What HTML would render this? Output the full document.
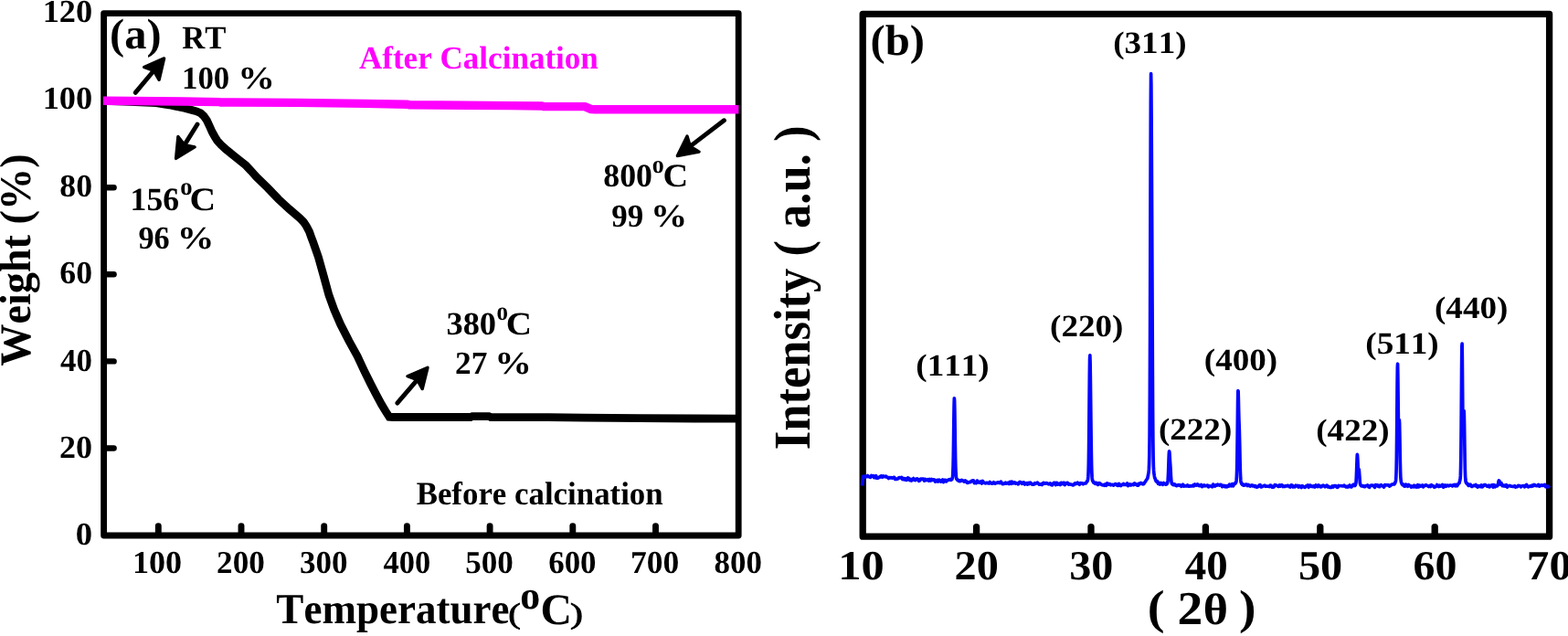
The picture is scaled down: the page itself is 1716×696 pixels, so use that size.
<!DOCTYPE html>
<html lang="en"><head><meta charset="utf-8"><title>TGA and XRD</title>
<style>
html,body{margin:0;padding:0;background:#fff;}
body{width:1716px;height:696px;overflow:hidden;}
svg{display:block;font-family:"Liberation Serif",serif;font-weight:bold;font-kerning:none;fill:#000;text-rendering:geometricPrecision;}
text{white-space:pre;}
</style></head><body>
<svg width="1716" height="696" viewBox="0 0 1716 696">
<rect width="1716" height="696" fill="#fff"/>
<g id="figure">
<g id="panel-a">
<rect x="113.6" y="14.6" width="694.6" height="571.4" fill="none" stroke="#000" stroke-width="6.8" stroke-linejoin="round"/>
<line x1="173.3" y1="585.0" x2="173.3" y2="575.6" stroke="#000" stroke-width="6.9" stroke-linecap="round"/>
<line x1="264.0" y1="585.0" x2="264.0" y2="575.6" stroke="#000" stroke-width="6.9" stroke-linecap="round"/>
<line x1="354.7" y1="585.0" x2="354.7" y2="575.6" stroke="#000" stroke-width="6.9" stroke-linecap="round"/>
<line x1="445.4" y1="585.0" x2="445.4" y2="575.6" stroke="#000" stroke-width="6.9" stroke-linecap="round"/>
<line x1="536.1" y1="585.0" x2="536.1" y2="575.6" stroke="#000" stroke-width="6.9" stroke-linecap="round"/>
<line x1="626.8" y1="585.0" x2="626.8" y2="575.6" stroke="#000" stroke-width="6.9" stroke-linecap="round"/>
<line x1="717.5" y1="585.0" x2="717.5" y2="575.6" stroke="#000" stroke-width="6.9" stroke-linecap="round"/>
<line x1="114.6" y1="490.5" x2="124.6" y2="490.5" stroke="#000" stroke-width="6.4" stroke-linecap="round"/>
<line x1="114.6" y1="395.4" x2="124.6" y2="395.4" stroke="#000" stroke-width="6.4" stroke-linecap="round"/>
<line x1="114.6" y1="300.3" x2="124.6" y2="300.3" stroke="#000" stroke-width="6.4" stroke-linecap="round"/>
<line x1="114.6" y1="205.2" x2="124.6" y2="205.2" stroke="#000" stroke-width="6.4" stroke-linecap="round"/>
<line x1="114.6" y1="110.1" x2="124.6" y2="110.1" stroke="#000" stroke-width="6.4" stroke-linecap="round"/>
<path d="M114.00,110.30 L136.50,111.00 L171.00,112.60 L185.00,114.80 L191.60,116.10 L201.80,118.30 L209.20,120.30 L215.00,121.80 L219.50,123.80 L223.00,127.00 L226.40,131.80 L229.30,138.00 L232.20,144.50 L235.00,149.50 L237.70,153.90 L241.80,158.50 L246.90,163.10 L257.70,171.90 L269.20,181.10 L274.90,187.10 L280.70,193.70 L293.00,205.60 L304.70,217.90 L316.70,228.90 L328.40,239.00 L332.40,243.10 L335.60,247.90 L338.50,253.50 L340.60,259.40 L342.80,265.30 L348.40,281.40 L354.20,302.00 L359.90,322.80 L365.70,338.90 L372.70,355.00 L382.00,373.30 L391.20,390.00 L398.20,405.00 L405.60,420.00 L411.30,431.00 L417.50,442.50 L422.00,450.00 L426.00,456.30 L430.00,456.50 L515.00,456.50 L517.00,455.60 L535.00,455.60 L537.00,456.50 L600.00,456.60 L640.00,457.20 L700.00,457.60 L760.00,458.00 L808.00,458.20" fill="none" stroke="#000" stroke-width="8.8" stroke-linejoin="miter" stroke-miterlimit="6"/>
<path d="M113.00,110.30 L200.00,111.00 L240.00,111.60 L241.00,112.00 L325.00,112.40 L400.00,113.40 L446.00,114.20 L448.00,114.80 L560.00,115.60 L593.00,116.00 L595.00,116.60 L640.00,116.60 L647.00,119.60 L651.00,119.80 L808.40,119.80" fill="none" stroke="#ff00ff" stroke-width="9.4" stroke-linejoin="round"/>
<line x1="148.2" y1="101.4" x2="168.4" y2="77.3" stroke="#000" stroke-width="4.9" stroke-linecap="round"/><polygon points="179.6,63.9 174.1,87.3 168.4,77.3 157.6,73.5" fill="#000" stroke="#000" stroke-width="3.4" stroke-linejoin="round"/>
<line x1="216.0" y1="136.0" x2="201.9" y2="158.6" stroke="#000" stroke-width="4.9" stroke-linecap="round"/><polygon points="192.6,173.4 194.9,149.5 201.9,158.6 213.1,160.9" fill="#000" stroke="#000" stroke-width="3.4" stroke-linejoin="round"/>
<line x1="434.8" y1="441.2" x2="456.7" y2="415.6" stroke="#000" stroke-width="4.9" stroke-linecap="round"/><polygon points="468.0,402.3 462.2,425.6 456.7,415.6 445.9,411.7" fill="#000" stroke="#000" stroke-width="3.4" stroke-linejoin="round"/>
<line x1="792.4" y1="131.8" x2="755.3" y2="160.1" stroke="#000" stroke-width="4.9" stroke-linecap="round"/><polygon points="741.4,170.6 752.0,149.1 755.3,160.1 765.0,166.2" fill="#000" stroke="#000" stroke-width="3.4" stroke-linejoin="round"/>
</g>
<g id="panel-b">
<rect x="944.2" y="15.3" width="751.3999999999999" height="571.9000000000001" fill="none" stroke="#000" stroke-width="7.3" stroke-linejoin="round"/>
<line x1="1068.6" y1="586.2" x2="1068.6" y2="576.6" stroke="#000" stroke-width="7.3" stroke-linecap="round"/>
<line x1="1194.0" y1="586.2" x2="1194.0" y2="576.6" stroke="#000" stroke-width="7.3" stroke-linecap="round"/>
<line x1="1319.4" y1="586.2" x2="1319.4" y2="576.6" stroke="#000" stroke-width="7.3" stroke-linecap="round"/>
<line x1="1444.8" y1="586.2" x2="1444.8" y2="576.6" stroke="#000" stroke-width="7.3" stroke-linecap="round"/>
<line x1="1570.2" y1="586.2" x2="1570.2" y2="576.6" stroke="#000" stroke-width="7.3" stroke-linecap="round"/>
<path d="M943.60,531.47 L944.60,521.39 L945.60,522.46 L946.60,521.22 L947.60,521.38 L948.60,521.65 L949.60,520.57 L950.60,521.53 L951.60,521.91 L952.60,522.41 L953.60,520.50 L954.60,521.13 L955.60,520.58 L956.60,522.64 L957.60,522.36 L958.60,520.58 L959.60,523.25 L960.60,523.25 L961.60,522.43 L962.60,522.36 L963.60,521.13 L964.60,520.77 L965.60,522.25 L966.60,520.99 L967.60,521.40 L968.60,521.59 L969.60,521.04 L970.60,522.30 L971.60,522.28 L972.60,523.45 L973.60,522.59 L974.60,522.97 L975.60,522.65 L976.60,523.20 L977.60,522.71 L978.60,522.30 L979.60,524.40 L980.60,524.48 L981.60,524.13 L982.60,523.85 L983.60,522.84 L984.60,522.69 L985.60,522.94 L986.60,522.42 L987.60,524.45 L988.60,523.52 L989.60,524.86 L990.60,523.66 L991.60,525.34 L992.60,525.12 L993.60,522.84 L994.60,523.51 L995.60,525.56 L996.60,524.42 L997.60,525.93 L998.60,524.39 L999.60,523.57 L1000.60,525.19 L1001.60,525.65 L1002.60,524.27 L1003.60,523.81 L1004.60,524.52 L1005.60,526.34 L1006.60,525.80 L1007.60,524.06 L1008.60,524.46 L1009.60,524.10 L1010.60,524.02 L1011.60,526.13 L1012.60,524.44 L1013.60,525.55 L1014.60,525.28 L1015.60,524.61 L1016.60,526.17 L1017.60,524.53 L1018.60,526.00 L1019.60,524.57 L1020.60,525.46 L1021.60,524.92 L1022.60,525.12 L1023.60,527.13 L1024.60,526.70 L1025.60,525.34 L1026.60,527.00 L1027.60,525.15 L1028.60,525.70 L1029.60,527.02 L1030.60,526.45 L1031.60,524.96 L1032.60,527.47 L1033.60,525.32 L1034.60,525.45 L1035.60,526.88 L1036.60,525.60 L1037.60,525.45 L1038.60,524.71 L1039.60,524.54 L1040.60,525.35 L1040.85,524.86 L1041.10,525.02 L1041.35,524.57 L1041.60,524.38 L1041.85,524.53 L1042.10,523.57 L1042.35,522.78 L1042.60,521.28 L1042.85,516.84 L1043.10,509.50 L1043.35,497.97 L1043.60,480.65 L1043.85,460.55 L1044.10,443.76 L1044.35,435.79 L1044.60,438.55 L1044.85,450.23 L1045.10,468.85 L1045.35,487.05 L1045.60,501.77 L1045.85,511.92 L1046.10,517.76 L1046.35,520.95 L1046.60,523.47 L1046.85,523.59 L1047.10,524.54 L1047.35,524.45 L1047.60,525.27 L1047.85,525.28 L1048.10,525.17 L1048.35,525.22 L1048.60,525.90 L1048.85,525.38 L1049.10,525.65 L1049.35,526.06 L1049.60,526.43 L1049.85,526.28 L1050.10,526.01 L1050.35,526.70 L1050.60,526.05 L1050.85,525.92 L1051.10,526.21 L1051.35,526.33 L1052.35,525.38 L1053.35,525.81 L1054.35,526.43 L1055.35,527.07 L1056.35,525.90 L1057.35,526.60 L1058.35,528.13 L1059.35,528.42 L1060.35,527.56 L1061.35,527.70 L1062.35,527.44 L1063.35,526.23 L1064.35,525.97 L1065.35,525.96 L1066.35,528.49 L1067.35,527.94 L1068.35,528.71 L1069.35,526.10 L1070.35,527.86 L1071.35,527.46 L1072.35,528.19 L1073.35,527.07 L1074.35,529.00 L1075.35,526.45 L1076.35,527.80 L1077.35,528.36 L1078.35,528.85 L1079.35,528.43 L1080.35,528.36 L1081.35,528.64 L1082.35,529.02 L1083.35,527.47 L1084.35,528.45 L1085.35,529.08 L1086.35,529.03 L1087.35,527.79 L1088.35,528.86 L1089.35,529.10 L1090.35,528.31 L1091.35,528.49 L1092.35,527.84 L1093.35,528.43 L1094.35,528.54 L1095.35,527.09 L1096.35,528.68 L1097.35,529.70 L1098.35,529.41 L1099.35,529.02 L1100.35,528.10 L1101.35,529.09 L1102.35,528.68 L1103.35,528.31 L1104.35,529.44 L1105.35,527.35 L1106.35,529.24 L1107.35,527.24 L1108.35,528.87 L1109.35,528.55 L1110.35,527.87 L1111.35,529.20 L1112.35,528.66 L1113.35,529.01 L1114.35,529.89 L1115.35,528.05 L1116.35,527.39 L1117.35,528.22 L1118.35,529.30 L1119.35,527.99 L1120.35,527.92 L1121.35,530.00 L1122.35,529.34 L1123.35,528.75 L1124.35,530.03 L1125.35,528.47 L1126.35,529.44 L1127.35,528.15 L1128.35,528.83 L1129.35,529.90 L1130.35,530.22 L1131.35,530.15 L1132.35,528.78 L1133.35,529.36 L1134.35,528.64 L1135.35,528.15 L1136.35,529.18 L1137.35,530.16 L1138.35,530.21 L1139.35,529.85 L1140.35,530.54 L1141.35,528.68 L1142.35,528.40 L1143.35,529.21 L1144.35,528.74 L1145.35,528.59 L1146.35,529.17 L1147.35,529.79 L1148.35,529.44 L1149.35,528.96 L1150.35,530.45 L1151.35,530.87 L1152.35,529.41 L1153.35,528.35 L1154.35,528.25 L1155.35,530.62 L1156.35,528.30 L1157.35,530.18 L1158.35,529.80 L1159.35,529.08 L1160.35,530.43 L1161.35,528.28 L1162.35,528.62 L1163.35,529.52 L1164.35,528.32 L1165.35,530.58 L1166.35,528.93 L1167.35,528.66 L1168.35,528.41 L1169.35,530.04 L1170.35,529.53 L1171.35,530.05 L1172.35,530.12 L1173.35,530.55 L1174.35,530.97 L1175.35,530.20 L1176.35,528.84 L1177.35,529.60 L1178.35,528.76 L1179.35,528.27 L1180.35,529.54 L1181.35,530.18 L1182.35,528.63 L1183.35,528.83 L1184.35,528.94 L1185.35,529.78 L1186.35,529.08 L1187.35,529.02 L1188.35,528.89 L1189.35,527.10 L1189.60,527.14 L1189.85,526.82 L1190.10,525.49 L1190.35,525.60 L1190.60,524.23 L1190.85,521.38 L1191.10,516.92 L1191.35,507.54 L1191.60,491.11 L1191.85,465.99 L1192.10,436.81 L1192.35,409.90 L1192.60,392.40 L1192.85,388.90 L1193.10,397.16 L1193.35,414.10 L1193.60,434.40 L1193.85,456.92 L1194.10,478.08 L1194.35,495.77 L1194.60,508.99 L1194.85,516.85 L1195.10,522.18 L1195.35,524.64 L1195.60,525.89 L1195.85,526.19 L1196.10,526.96 L1196.35,526.90 L1196.60,527.82 L1196.85,528.05 L1197.10,527.80 L1197.35,527.75 L1197.60,528.28 L1197.85,528.55 L1198.10,528.90 L1198.35,528.75 L1198.60,528.41 L1198.85,529.27 L1199.10,528.62 L1199.35,529.42 L1199.60,528.28 L1200.60,528.95 L1201.60,530.37 L1202.60,528.67 L1203.60,528.78 L1204.60,529.88 L1205.60,530.51 L1206.60,530.89 L1207.60,530.50 L1208.60,531.25 L1209.60,530.02 L1210.60,531.32 L1211.60,528.93 L1212.60,529.33 L1213.60,530.20 L1214.60,529.56 L1215.60,530.81 L1216.60,530.57 L1217.60,530.26 L1218.60,531.18 L1219.60,530.31 L1220.60,529.63 L1221.60,529.83 L1222.60,531.14 L1223.60,531.30 L1224.60,529.37 L1225.60,531.18 L1226.60,531.51 L1227.60,530.28 L1228.60,530.42 L1229.60,529.38 L1230.60,530.32 L1231.60,530.23 L1232.60,530.54 L1233.60,528.92 L1234.60,531.55 L1235.60,530.27 L1236.60,529.94 L1237.60,531.05 L1238.60,530.37 L1239.60,530.14 L1240.60,530.67 L1241.60,528.89 L1242.60,530.18 L1243.60,529.78 L1244.60,531.24 L1245.60,531.07 L1246.60,529.15 L1247.60,529.60 L1248.60,528.48 L1249.60,529.13 L1250.60,529.92 L1251.60,529.78 L1252.60,528.04 L1253.60,526.77 L1254.60,525.13 L1255.60,523.93 L1255.85,523.46 L1256.10,521.77 L1256.35,521.34 L1256.60,519.33 L1256.85,517.97 L1257.10,516.05 L1257.35,513.67 L1257.60,508.33 L1257.85,498.14 L1258.10,477.04 L1258.35,435.86 L1258.60,370.12 L1258.85,280.38 L1259.10,186.10 L1259.35,112.32 L1259.60,80.64 L1259.85,92.72 L1260.10,132.05 L1260.35,181.40 L1260.60,233.46 L1260.85,289.17 L1261.10,347.75 L1261.35,404.08 L1261.60,450.33 L1261.85,481.81 L1262.10,500.20 L1262.35,510.23 L1262.60,514.93 L1262.85,517.92 L1263.10,519.13 L1263.35,521.01 L1263.60,522.21 L1263.85,523.26 L1264.10,523.50 L1264.35,524.20 L1264.60,525.40 L1264.85,525.23 L1265.10,526.46 L1265.35,526.75 L1265.60,526.37 L1265.85,526.78 L1266.10,527.54 L1266.35,527.33 L1266.60,526.66 L1267.60,529.41 L1268.60,528.74 L1269.60,530.10 L1270.60,528.48 L1271.60,529.43 L1272.60,530.33 L1273.60,528.53 L1274.60,529.04 L1275.60,529.96 L1275.85,530.14 L1276.10,530.14 L1276.35,529.24 L1276.60,529.53 L1276.85,529.67 L1277.10,529.28 L1277.35,529.24 L1277.60,528.36 L1277.85,527.42 L1278.10,525.71 L1278.35,522.31 L1278.60,517.37 L1278.85,510.04 L1279.10,502.38 L1279.35,496.08 L1279.60,493.75 L1279.85,494.96 L1280.10,498.90 L1280.35,502.91 L1280.60,506.67 L1280.85,509.93 L1281.10,514.41 L1281.35,519.87 L1281.60,523.34 L1281.85,526.47 L1282.10,527.77 L1282.35,528.84 L1282.60,529.36 L1282.85,529.54 L1283.10,529.88 L1283.35,529.43 L1283.60,530.20 L1283.85,530.43 L1284.10,529.86 L1284.35,530.19 L1284.60,530.53 L1284.85,530.25 L1285.10,530.09 L1285.35,530.10 L1285.60,530.48 L1285.85,530.03 L1286.10,530.92 L1286.35,530.86 L1286.60,531.16 L1287.60,531.68 L1288.60,531.09 L1289.60,530.51 L1290.60,531.10 L1291.60,530.87 L1292.60,532.24 L1293.60,531.77 L1294.60,530.27 L1295.60,532.12 L1296.60,531.67 L1297.60,531.79 L1298.60,531.91 L1299.60,530.87 L1300.60,532.26 L1301.60,532.23 L1302.60,531.72 L1303.60,531.94 L1304.60,531.94 L1305.60,530.95 L1306.60,531.85 L1307.60,530.04 L1308.60,530.81 L1309.60,531.18 L1310.60,529.90 L1311.60,530.88 L1312.60,531.69 L1313.60,531.66 L1314.60,530.57 L1315.60,532.56 L1316.60,531.79 L1317.60,530.88 L1318.60,531.79 L1319.60,531.55 L1320.60,531.46 L1321.60,531.07 L1322.60,532.79 L1323.60,531.79 L1324.60,531.97 L1325.60,532.15 L1326.60,532.77 L1327.60,530.09 L1328.60,531.76 L1329.60,532.11 L1330.60,530.77 L1331.60,531.17 L1332.60,530.19 L1333.60,530.60 L1334.60,531.10 L1335.60,530.33 L1336.60,530.75 L1337.60,532.58 L1338.60,531.58 L1339.60,531.45 L1340.60,532.73 L1341.60,531.59 L1342.60,532.76 L1343.60,531.74 L1344.60,532.18 L1345.60,530.07 L1346.60,531.45 L1347.60,531.79 L1348.60,529.63 L1349.60,531.85 L1350.60,529.27 L1351.60,529.45 L1351.85,528.88 L1352.10,528.87 L1352.35,528.58 L1352.60,527.50 L1352.85,527.53 L1353.10,525.40 L1353.35,522.10 L1353.60,515.23 L1353.85,502.53 L1354.10,483.63 L1354.35,461.15 L1354.60,440.11 L1354.85,427.68 L1355.10,428.05 L1355.35,436.91 L1355.60,448.58 L1355.85,458.27 L1356.10,464.63 L1356.35,471.45 L1356.60,481.56 L1356.85,493.27 L1357.10,505.91 L1357.35,515.53 L1357.60,521.32 L1357.85,525.89 L1358.10,527.72 L1358.35,527.81 L1358.60,529.18 L1358.85,529.10 L1359.10,529.44 L1359.35,530.18 L1359.60,529.67 L1359.85,530.13 L1360.10,530.69 L1360.35,530.61 L1360.60,530.48 L1360.85,531.09 L1361.10,531.02 L1361.35,530.89 L1361.60,530.49 L1361.85,531.05 L1362.10,530.86 L1363.10,530.34 L1364.10,530.04 L1365.10,531.47 L1366.10,530.41 L1367.10,531.35 L1368.10,532.03 L1369.10,531.47 L1370.10,530.96 L1371.10,531.88 L1372.10,531.45 L1373.10,532.47 L1374.10,531.80 L1375.10,533.12 L1376.10,533.01 L1377.10,532.41 L1378.10,531.04 L1379.10,530.70 L1380.10,532.89 L1381.10,532.60 L1382.10,532.17 L1383.10,531.43 L1384.10,531.20 L1385.10,532.36 L1386.10,532.04 L1387.10,532.12 L1388.10,532.25 L1389.10,532.59 L1390.10,531.02 L1391.10,531.20 L1392.10,533.25 L1393.10,533.08 L1394.10,532.99 L1395.10,530.67 L1396.10,530.73 L1397.10,531.33 L1398.10,531.77 L1399.10,532.33 L1400.10,530.88 L1401.10,532.11 L1402.10,530.81 L1403.10,530.85 L1404.10,532.51 L1405.10,532.17 L1406.10,532.40 L1407.10,531.68 L1408.10,531.99 L1409.10,531.24 L1410.10,531.62 L1411.10,532.75 L1412.10,533.02 L1413.10,530.89 L1414.10,531.02 L1415.10,532.96 L1416.10,532.45 L1417.10,532.86 L1418.10,531.31 L1419.10,531.91 L1420.10,531.45 L1421.10,533.01 L1422.10,531.78 L1423.10,532.58 L1424.10,533.53 L1425.10,531.68 L1426.10,532.31 L1427.10,532.87 L1428.10,533.37 L1429.10,531.99 L1430.10,531.83 L1431.10,531.07 L1432.10,533.25 L1433.10,531.02 L1434.10,531.03 L1435.10,532.37 L1436.10,532.15 L1437.10,532.71 L1438.10,531.62 L1439.10,532.96 L1440.10,531.00 L1441.10,531.38 L1442.10,532.64 L1443.10,531.01 L1444.10,531.63 L1445.10,532.81 L1446.10,532.71 L1447.10,531.56 L1448.10,531.16 L1449.10,531.76 L1450.10,532.79 L1451.10,531.78 L1452.10,531.08 L1453.10,532.74 L1454.10,532.35 L1455.10,533.32 L1456.10,533.38 L1457.10,533.30 L1458.10,531.97 L1459.10,532.99 L1460.10,531.59 L1461.10,531.62 L1462.10,531.85 L1463.10,533.34 L1464.10,533.23 L1465.10,531.41 L1466.10,531.73 L1467.10,531.73 L1468.10,531.72 L1469.10,531.81 L1470.10,531.78 L1471.10,531.23 L1472.10,532.25 L1473.10,532.90 L1474.10,532.16 L1475.10,532.97 L1476.10,532.19 L1477.10,531.08 L1478.10,532.67 L1479.10,532.95 L1480.10,531.18 L1481.10,530.31 L1482.10,531.42 L1482.35,531.35 L1482.60,531.27 L1482.85,531.52 L1483.10,531.04 L1483.35,530.90 L1483.60,529.64 L1483.85,528.96 L1484.10,526.85 L1484.35,521.93 L1484.60,515.56 L1484.85,508.52 L1485.10,501.78 L1485.35,497.37 L1485.60,498.90 L1485.85,503.06 L1486.10,509.28 L1486.35,513.17 L1486.60,514.06 L1486.85,513.50 L1487.10,513.57 L1487.35,514.45 L1487.60,517.65 L1487.85,521.22 L1488.10,524.89 L1488.35,528.28 L1488.60,529.69 L1488.85,530.42 L1489.10,530.91 L1489.35,531.32 L1489.60,531.42 L1489.85,531.73 L1490.10,531.32 L1490.35,531.80 L1490.60,531.70 L1490.85,531.94 L1491.10,531.93 L1491.35,532.00 L1491.60,532.09 L1491.85,532.18 L1492.10,531.90 L1492.35,531.81 L1492.60,532.39 L1493.60,532.71 L1494.60,531.69 L1495.60,531.71 L1496.60,530.96 L1497.60,532.64 L1498.60,533.35 L1499.60,531.63 L1500.60,531.05 L1501.60,531.16 L1502.60,531.77 L1503.60,531.40 L1504.60,533.30 L1505.60,530.74 L1506.60,531.43 L1507.60,530.89 L1508.60,532.37 L1509.60,532.72 L1510.60,531.04 L1511.60,530.70 L1512.60,531.79 L1513.60,532.12 L1514.60,533.01 L1515.60,530.54 L1516.60,530.71 L1517.60,530.88 L1518.60,530.92 L1519.60,530.90 L1520.60,532.15 L1521.60,531.69 L1522.60,530.47 L1523.60,530.10 L1524.60,529.96 L1525.60,529.58 L1525.85,529.91 L1526.10,529.19 L1526.35,529.09 L1526.60,528.96 L1526.85,528.15 L1527.10,527.32 L1527.35,527.04 L1527.60,525.47 L1527.85,521.58 L1528.10,514.76 L1528.35,501.75 L1528.60,479.50 L1528.85,450.35 L1529.10,420.63 L1529.35,401.30 L1529.60,398.23 L1529.85,412.43 L1530.10,436.46 L1530.35,458.03 L1530.60,468.97 L1530.85,469.61 L1531.10,463.53 L1531.35,459.50 L1531.60,463.14 L1531.85,475.16 L1532.10,490.47 L1532.35,505.37 L1532.60,515.95 L1532.85,522.34 L1533.10,525.32 L1533.35,527.01 L1533.60,528.04 L1533.85,528.52 L1534.10,529.52 L1534.35,529.49 L1534.60,529.88 L1534.85,530.46 L1535.10,529.95 L1535.35,530.38 L1535.60,530.15 L1535.85,530.89 L1536.10,530.25 L1536.35,531.16 L1536.60,531.90 L1537.60,532.11 L1538.60,530.22 L1539.60,530.87 L1540.60,532.21 L1541.60,530.55 L1542.60,531.67 L1543.60,531.68 L1544.60,533.08 L1545.60,532.07 L1546.60,532.85 L1547.60,531.32 L1548.60,532.69 L1549.60,531.66 L1550.60,533.07 L1551.60,530.77 L1552.60,532.83 L1553.60,531.11 L1554.60,532.05 L1555.60,532.01 L1556.60,530.98 L1557.60,532.87 L1558.60,531.42 L1559.60,531.42 L1560.60,530.73 L1561.60,531.37 L1562.60,531.82 L1563.60,532.51 L1564.60,531.51 L1565.60,532.43 L1566.60,530.80 L1567.60,531.60 L1568.60,531.78 L1569.60,533.22 L1570.60,532.83 L1571.60,532.33 L1572.60,530.53 L1573.60,531.54 L1574.60,532.47 L1575.60,531.13 L1576.60,532.04 L1577.60,531.73 L1578.60,530.47 L1579.60,533.20 L1580.60,532.65 L1581.60,530.97 L1582.60,532.10 L1583.60,531.16 L1584.60,531.37 L1585.60,531.80 L1586.60,531.09 L1587.60,531.15 L1588.60,531.25 L1589.60,531.95 L1590.60,530.70 L1591.60,530.42 L1592.60,531.74 L1593.60,530.36 L1594.60,531.71 L1595.60,530.04 L1596.60,529.03 L1596.85,528.26 L1597.10,528.30 L1597.35,527.03 L1597.60,526.37 L1597.85,525.29 L1598.10,524.01 L1598.35,520.17 L1598.60,511.47 L1598.85,496.07 L1599.10,471.09 L1599.35,437.17 L1599.60,402.26 L1599.85,379.00 L1600.10,376.04 L1600.35,394.29 L1600.60,424.91 L1600.85,453.71 L1601.10,472.14 L1601.35,474.49 L1601.60,466.37 L1601.85,455.27 L1602.10,449.57 L1602.35,454.01 L1602.60,467.29 L1602.85,485.18 L1603.10,501.81 L1603.35,513.43 L1603.60,521.01 L1603.85,525.05 L1604.10,527.16 L1604.35,527.92 L1604.60,528.38 L1604.85,528.77 L1605.10,528.54 L1605.35,529.14 L1605.60,529.41 L1605.85,529.93 L1606.10,529.59 L1606.35,530.02 L1606.60,530.29 L1606.85,530.69 L1607.10,531.43 L1608.10,531.17 L1609.10,530.13 L1610.10,531.98 L1611.10,532.48 L1612.10,531.57 L1613.10,531.08 L1614.10,531.54 L1615.10,530.57 L1616.10,532.21 L1617.10,532.99 L1618.10,531.70 L1619.10,532.27 L1620.10,532.62 L1621.10,530.84 L1622.10,532.94 L1623.10,532.06 L1624.10,530.87 L1625.10,530.55 L1626.10,531.00 L1627.10,531.93 L1628.10,532.27 L1629.10,531.24 L1630.10,532.92 L1631.10,531.33 L1632.10,531.61 L1633.10,530.66 L1634.10,533.02 L1635.10,530.66 L1636.10,532.79 L1637.10,531.66 L1637.35,531.66 L1637.60,531.65 L1637.85,531.34 L1638.10,531.94 L1638.35,531.98 L1638.60,531.74 L1638.85,531.38 L1639.10,530.59 L1639.35,530.67 L1639.60,529.16 L1639.85,528.45 L1640.10,526.51 L1640.35,525.93 L1640.60,526.08 L1640.85,526.17 L1641.10,527.73 L1641.35,528.47 L1641.60,529.20 L1641.85,529.56 L1642.10,530.08 L1642.35,529.53 L1642.60,528.84 L1642.85,528.42 L1643.10,529.11 L1643.35,529.81 L1643.60,530.15 L1643.85,530.93 L1644.10,531.51 L1644.35,530.95 L1644.60,531.23 L1644.85,531.55 L1645.10,531.26 L1645.35,531.51 L1645.60,531.71 L1645.85,531.33 L1646.10,531.68 L1646.35,531.44 L1646.60,531.74 L1646.85,531.52 L1647.10,531.83 L1647.35,531.24 L1647.60,532.18 L1648.60,530.71 L1649.60,533.00 L1650.60,532.00 L1651.60,531.63 L1652.60,531.47 L1653.60,532.07 L1654.60,532.25 L1655.60,532.44 L1656.60,532.42 L1657.60,531.67 L1658.60,533.10 L1659.60,532.66 L1660.60,532.70 L1661.60,531.45 L1662.60,531.52 L1663.60,531.88 L1664.60,532.83 L1665.60,531.77 L1666.60,531.76 L1667.60,531.50 L1668.60,532.82 L1669.60,531.18 L1670.60,530.43 L1671.60,532.31 L1672.60,532.80 L1673.60,532.32 L1674.60,531.94 L1675.60,532.37 L1676.60,531.12 L1677.60,531.92 L1678.60,530.46 L1679.60,530.61 L1680.60,531.51 L1681.60,531.66 L1682.60,531.36 L1683.60,530.39 L1684.60,532.19 L1685.60,531.71 L1686.60,530.91 L1687.60,531.09 L1688.60,531.34 L1689.60,530.89 L1690.60,530.42 L1691.60,532.78 L1692.60,532.93 L1693.60,532.08 L1694.60,532.64 L1695.60,531.39" fill="none" stroke="#0606ff" stroke-width="3.7" stroke-linejoin="round" stroke-linecap="butt"/>
</g>
<g id="labels">
<text font-size="34.97"><tspan x="46.65" y="23.76" textLength="54.38" lengthAdjust="spacingAndGlyphs">120</tspan></text>
<text font-size="34.97"><tspan x="46.65" y="119.21" textLength="54.38" lengthAdjust="spacingAndGlyphs">100</tspan></text>
<text font-size="34.97"><tspan x="65.37" y="214.66" textLength="35.64" lengthAdjust="spacingAndGlyphs">80</tspan></text>
<text font-size="34.97"><tspan x="65.33" y="310.11" textLength="35.68" lengthAdjust="spacingAndGlyphs">60</tspan></text>
<text font-size="34.97"><tspan x="66.07" y="405.56" textLength="34.91" lengthAdjust="spacingAndGlyphs">40</tspan></text>
<text font-size="34.97"><tspan x="65.04" y="501.01" textLength="35.98" lengthAdjust="spacingAndGlyphs">20</tspan></text>
<text font-size="34.97"><tspan x="82.76" y="596.46" textLength="18.29" lengthAdjust="spacingAndGlyphs">0</tspan></text>
<text font-size="34.82"><tspan x="144.96" y="626.61" textLength="54.17" lengthAdjust="spacingAndGlyphs">100</tspan></text>
<text font-size="34.82"><tspan x="237.07" y="626.61" textLength="52.71" lengthAdjust="spacingAndGlyphs">200</tspan></text>
<text font-size="34.82"><tspan x="327.93" y="626.61" textLength="52.55" lengthAdjust="spacingAndGlyphs">300</tspan></text>
<text font-size="34.82"><tspan x="419.48" y="626.61" textLength="51.68" lengthAdjust="spacingAndGlyphs">400</tspan></text>
<text font-size="34.82"><tspan x="509.24" y="626.61" textLength="52.64" lengthAdjust="spacingAndGlyphs">500</tspan></text>
<text font-size="34.82"><tspan x="600.16" y="626.61" textLength="52.43" lengthAdjust="spacingAndGlyphs">600</tspan></text>
<text font-size="34.82"><tspan x="690.02" y="626.61" textLength="53.28" lengthAdjust="spacingAndGlyphs">700</tspan></text>
<text font-size="34.82"><tspan x="781.59" y="626.61" textLength="52.39" lengthAdjust="spacingAndGlyphs">800</tspan></text>
<text font-size="46.98"><tspan x="120.12" y="52.95" textLength="56.56" lengthAdjust="spacingAndGlyphs">(a)</tspan></text>
<text font-size="35.58"><tspan x="199.26" y="53.35" textLength="48.22" lengthAdjust="spacingAndGlyphs">RT</tspan></text>
<text font-size="34.97"><tspan x="198.96" y="96.61" textLength="52.32" lengthAdjust="spacingAndGlyphs">100</tspan> <tspan x="260.28" y="96.61" textLength="40.69" lengthAdjust="spacingAndGlyphs">%</tspan></text>
<text font-size="35.27" fill="#ff00ff"><tspan x="392.91" y="74.51" textLength="261.97" lengthAdjust="spacingAndGlyphs">After Calcination</tspan></text>
<text font-size="35.71"><tspan x="142.60" y="229.70" textLength="53.39" lengthAdjust="spacingAndGlyphs">156</tspan><tspan x="197.23" y="213.49" textLength="13.33" lengthAdjust="spacingAndGlyphs" font-size="27.03">o</tspan><tspan x="207.51" y="229.70" textLength="28.66" lengthAdjust="spacingAndGlyphs">C</tspan></text>
<text font-size="34.97"><tspan x="151.41" y="271.61" textLength="34.24" lengthAdjust="spacingAndGlyphs">96</tspan> <tspan x="193.68" y="271.61" textLength="40.69" lengthAdjust="spacingAndGlyphs">%</tspan></text>
<text font-size="35.42"><tspan x="488.48" y="365.50" textLength="54.55" lengthAdjust="spacingAndGlyphs">380</tspan><tspan x="543.50" y="349.97" textLength="12.51" lengthAdjust="spacingAndGlyphs" font-size="28.90">o</tspan><tspan x="553.84" y="365.50" textLength="28.30" lengthAdjust="spacingAndGlyphs">C</tspan></text>
<text font-size="35.12"><tspan x="498.07" y="409.11" textLength="35.35" lengthAdjust="spacingAndGlyphs">27</tspan> <tspan x="541.28" y="409.11" textLength="40.69" lengthAdjust="spacingAndGlyphs">%</tspan></text>
<text font-size="35.71"><tspan x="660.26" y="204.40" textLength="53.65" lengthAdjust="spacingAndGlyphs">800</tspan><tspan x="713.86" y="188.98" textLength="12.98" lengthAdjust="spacingAndGlyphs" font-size="27.65">o</tspan><tspan x="725.58" y="204.40" textLength="27.69" lengthAdjust="spacingAndGlyphs">C</tspan></text>
<text font-size="35.27"><tspan x="669.20" y="247.71" textLength="34.92" lengthAdjust="spacingAndGlyphs">99</tspan> <tspan x="711.92" y="247.71" textLength="40.31" lengthAdjust="spacingAndGlyphs">%</tspan></text>
<text font-size="35.73"><tspan x="455.67" y="551.95" textLength="270.01" lengthAdjust="spacingAndGlyphs">Before calcination</tspan></text>
<text font-size="46.88"><tspan x="302.35" y="682.05" textLength="255.17" lengthAdjust="spacingAndGlyphs">Temperature</tspan><tspan x="556.27" y="681.56" textLength="13.48" lengthAdjust="spacingAndGlyphs" font-size="31.43" font-weight="normal" stroke="#000" stroke-width="0.8">(</tspan><tspan x="569.18" y="665.83" textLength="21.94" lengthAdjust="spacingAndGlyphs" font-size="43.04">o</tspan><tspan x="591.62" y="682.58" textLength="34.47" lengthAdjust="spacingAndGlyphs" font-size="47.93">C</tspan><tspan x="623.99" y="681.56" textLength="14.00" lengthAdjust="spacingAndGlyphs" font-size="31.43" font-weight="normal" stroke="#000" stroke-width="0.8">)</tspan></text>
<text font-size="100" transform="translate(32.90 400.80) rotate(-90) scale(0.4623 0.4800)">Weight (%)</text>
<text font-size="45.35"><tspan x="917.21" y="634.01" textLength="50.46" lengthAdjust="spacingAndGlyphs">10</tspan></text>
<text font-size="45.35"><tspan x="1044.62" y="634.01" textLength="48.37" lengthAdjust="spacingAndGlyphs">20</tspan></text>
<text font-size="45.35"><tspan x="1170.24" y="634.01" textLength="48.14" lengthAdjust="spacingAndGlyphs">30</tspan></text>
<text font-size="45.35"><tspan x="1296.81" y="634.01" textLength="46.93" lengthAdjust="spacingAndGlyphs">40</tspan></text>
<text font-size="45.35"><tspan x="1420.92" y="634.01" textLength="48.27" lengthAdjust="spacingAndGlyphs">50</tspan></text>
<text font-size="45.35"><tspan x="1546.61" y="634.01" textLength="47.97" lengthAdjust="spacingAndGlyphs">60</tspan></text>
<text font-size="45.35"><tspan x="1670.84" y="634.01" textLength="49.18" lengthAdjust="spacingAndGlyphs">70</tspan></text>
<text font-size="47.31"><tspan x="952.51" y="60.28" textLength="59.48" lengthAdjust="spacingAndGlyphs">(b)</tspan></text>
<text font-size="33.86"><tspan x="1002.32" y="410.97" textLength="80.36" lengthAdjust="spacingAndGlyphs">(111)</tspan></text>
<text font-size="33.86"><tspan x="1149.12" y="367.59" textLength="80.36" lengthAdjust="spacingAndGlyphs">(220)</tspan></text>
<text font-size="33.86"><tspan x="1218.22" y="58.49" textLength="80.36" lengthAdjust="spacingAndGlyphs">(311)</tspan></text>
<text font-size="33.86"><tspan x="1267.92" y="480.79" textLength="80.36" lengthAdjust="spacingAndGlyphs">(222)</tspan></text>
<text font-size="33.86"><tspan x="1317.87" y="404.99" textLength="80.36" lengthAdjust="spacingAndGlyphs">(400)</tspan></text>
<text font-size="33.86"><tspan x="1440.27" y="482.19" textLength="80.36" lengthAdjust="spacingAndGlyphs">(422)</tspan></text>
<text font-size="33.86"><tspan x="1494.32" y="386.79" textLength="80.36" lengthAdjust="spacingAndGlyphs">(511)</tspan></text>
<text font-size="33.86"><tspan x="1570.02" y="347.59" textLength="80.36" lengthAdjust="spacingAndGlyphs">(440)</tspan></text>
<text font-size="51.65"><tspan x="1255.67" y="682.42" textLength="18.80" lengthAdjust="spacingAndGlyphs" font-size="52.28">(</tspan> <tspan x="1288.41" y="683.25" textLength="27.83" lengthAdjust="spacingAndGlyphs">2</tspan><tspan x="1316.78" y="683.18" textLength="27.26" lengthAdjust="spacingAndGlyphs" font-size="48.38">θ</tspan> <tspan x="1355.96" y="682.42" textLength="18.54" lengthAdjust="spacingAndGlyphs" font-size="52.28">)</tspan></text>
<text font-size="100" transform="translate(885.70 492.22) rotate(-90) scale(0.5253 0.5660)">Intensity ( a.u. )</text>
</g>
</g>
</svg>
</body></html>
